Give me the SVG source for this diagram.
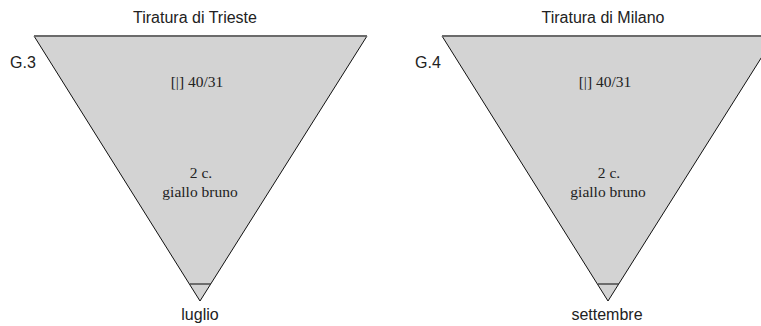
<svg xmlns="http://www.w3.org/2000/svg" width="761" height="326" viewBox="0 0 761 326">
<style>
.fill{fill:#d3d3d3;stroke:none}
.side{fill:none;stroke:#111;stroke-width:1}
.top{stroke:#6b6b6b;stroke-width:2}
.tick{stroke:#333;stroke-width:1.3}
.sans{font-family:"Liberation Sans",Arial,sans-serif;font-size:16px;fill:#222}
.serif{font-family:"Liberation Serif","Times New Roman",serif;font-size:15.5px;fill:#222;text-anchor:middle}
.mid{text-anchor:middle}
</style>
<rect width="761" height="326" fill="#fff"/>
<g id="trieste">
<polygon class="fill" points="34,36 367,36 200,301"/>
<polyline class="side" points="34,36 200,301 367,36"/>
<line class="top" x1="34" y1="36" x2="367" y2="36"/>
<line class="tick" x1="190" y1="284" x2="211" y2="284"/>
<text class="sans mid" x="195" y="23">Tiratura di Trieste</text>
<text class="sans" x="10" y="68">G.3</text>
<text class="serif" x="197" y="87">[|] 40/31</text>
<text class="serif" x="201" y="178">2 c.</text>
<text class="serif" x="200" y="197">giallo bruno</text>
<text class="sans mid" x="200" y="320">luglio</text>
</g>
<g id="milano">
<polygon class="fill" points="442,36 775,36 608,301"/>
<polyline class="side" points="442,36 608,301 775,36"/>
<line class="top" x1="442" y1="36" x2="775" y2="36"/>
<line class="tick" x1="598" y1="284" x2="619" y2="284"/>
<text class="sans mid" x="603" y="23">Tiratura di Milano</text>
<text class="sans" x="415" y="68">G.4</text>
<text class="serif" x="605" y="87">[|] 40/31</text>
<text class="serif" x="609" y="178">2 c.</text>
<text class="serif" x="608" y="197">giallo bruno</text>
<text class="sans mid" x="607" y="320">settembre</text>
</g>
<g id="connectors"></g>
</svg>
